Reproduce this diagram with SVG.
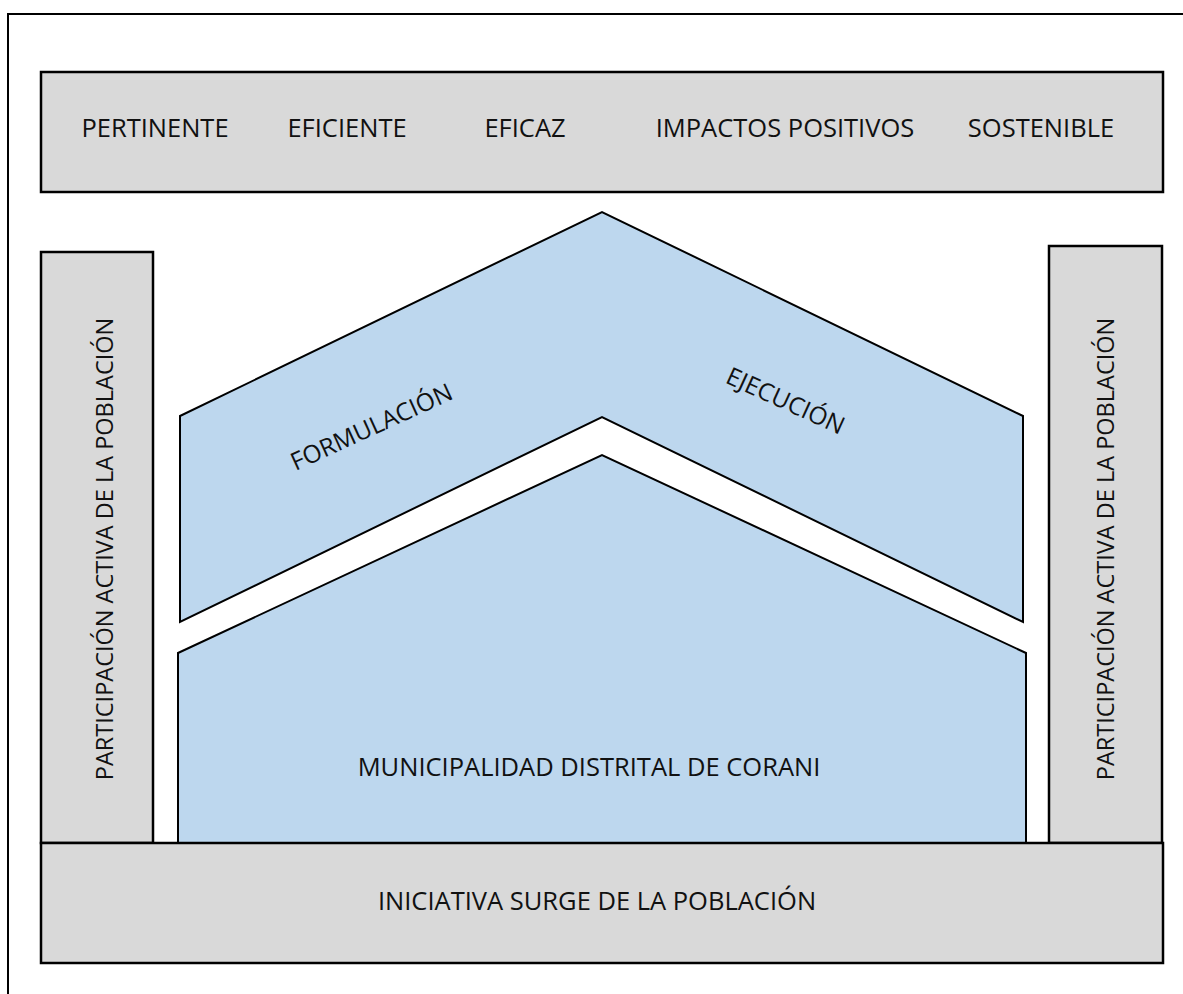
<svg xmlns="http://www.w3.org/2000/svg" width="1183" height="994" viewBox="0 0 1183 994">
<style>
.box{fill:#d9d9d9;stroke:#000;stroke-width:2.5}
.blue{fill:#bdd7ee;stroke:#000;stroke-width:2}
.t{font-family:"Open Sans","Noto Sans","Liberation Sans",sans-serif;font-size:25.5px;fill:#111;text-anchor:middle;dominant-baseline:central}
.v{font-size:23.5px}
.r{font-size:24.5px}
</style>
<rect width="1183" height="994" fill="#fff"/>
<g id="frame"><rect x="8" y="14" width="1200" height="1000" fill="none" stroke="#000" stroke-width="2"/></g>
<g id="top">
<rect class="box" x="41" y="72" width="1122" height="120"/>
<text class="t" x="155" y="127">PERTINENTE</text>
<text class="t" x="347" y="127">EFICIENTE</text>
<text class="t" x="525" y="127">EFICAZ</text>
<text class="t" x="785" y="127">IMPACTOS POSITIVOS</text>
<text class="t" x="1041" y="127">SOSTENIBLE</text>
</g>
<g id="left-pillar">
<rect class="box" x="41" y="252" width="112" height="591"/>
<text class="t v" transform="translate(104 549) rotate(-90)">PARTICIPACIÓN ACTIVA DE LA POBLACIÓN</text>
</g>
<g id="right-pillar">
<rect class="box" x="1049" y="246" width="113" height="597"/>
<text class="t v" transform="translate(1105 549) rotate(-90)">PARTICIPACIÓN ACTIVA DE LA POBLACIÓN</text>
</g>
<g id="roof">
<polygon class="blue" points="180,416 602,212 1023,416 1023,622 602,417 180,622"/>
<text class="t r" transform="translate(371 426) rotate(-24.5)">FORMULACIÓN</text>
<text class="t r" transform="translate(786 400) rotate(24.5)">EJECUCIÓN</text>
</g>
<g id="house">
<polygon class="blue" points="178,653 602,455 1026,653 1026,843 178,843"/>
<text class="t" x="589" y="766">MUNICIPALIDAD DISTRITAL DE CORANI</text>
</g>
<g id="base">
<rect class="box" x="41" y="843" width="1122" height="120"/>
<text class="t" x="597" y="900">INICIATIVA SURGE DE LA POBLACIÓN</text>
</g>
<g id="connectors"/>
</svg>
